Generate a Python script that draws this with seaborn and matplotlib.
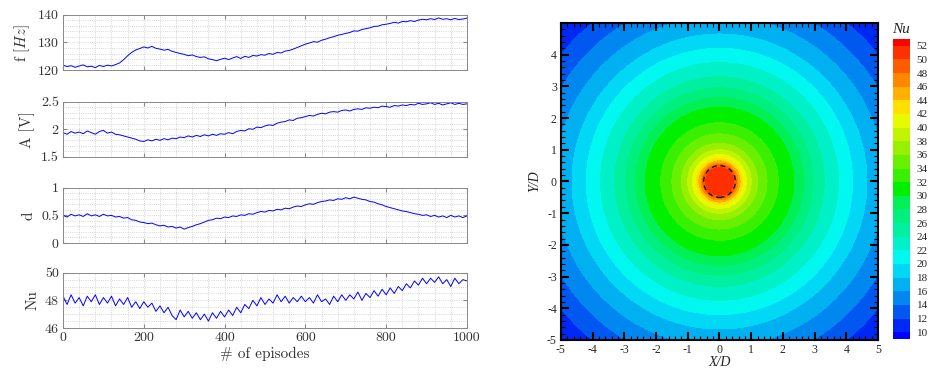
import numpy as np
import seaborn as sns
import matplotlib.pyplot as plt
from matplotlib.patches import Circle
from matplotlib.ticker import MultipleLocator

# --- time series, one value every 10 episodes ---
episodes = list(range(0, 1001, 10))

freq = [121.8, 121.3, 121.6, 121.0, 121.5, 121.9, 121.2, 121.4, 120.9, 121.7,
        121.3, 121.8, 121.5, 122.0, 122.6, 123.8, 125.2, 126.4, 127.3, 127.8,
        128.4, 128.0, 128.6, 127.9, 127.6, 127.2, 127.5, 126.8, 126.4, 126.0,
        125.7, 125.2, 125.5, 124.9, 124.6, 124.8, 124.1, 123.8, 123.4, 123.9,
        124.3, 123.8, 124.4, 124.9, 124.2, 125.0, 124.6, 125.3, 125.1, 125.6,
        125.4, 126.0, 125.7, 126.4, 126.2, 126.9, 127.1, 127.6, 128.2, 128.8,
        129.4, 129.8, 130.3, 130.1, 130.8, 131.2, 131.7, 132.1, 132.6, 132.9,
        133.3, 133.6, 134.2, 134.1, 134.7, 135.0, 135.3, 135.8, 135.9, 136.4,
        136.6, 136.9, 137.3, 137.0, 137.6, 137.5, 137.9, 137.6, 138.1, 138.4,
        138.2, 138.6, 138.3, 138.9, 138.4, 138.6, 138.2, 138.7, 138.3, 138.5,
        138.8]

amp = [1.94, 1.91, 1.96, 1.93, 1.95, 1.92, 1.97, 1.94, 1.91, 1.96,
       1.98, 1.93, 1.95, 1.91, 1.90, 1.88, 1.86, 1.84, 1.82, 1.79,
       1.78, 1.81, 1.79, 1.82, 1.80, 1.83, 1.81, 1.84, 1.83, 1.86,
       1.85, 1.88, 1.86, 1.89, 1.87, 1.90, 1.88, 1.91, 1.89, 1.92,
       1.91, 1.94, 1.92, 1.96, 1.98, 1.97, 2.01, 2.00, 2.04, 2.03,
       2.06, 2.08, 2.07, 2.11, 2.13, 2.14, 2.17, 2.16, 2.20, 2.21,
       2.23, 2.25, 2.24, 2.27, 2.29, 2.28, 2.31, 2.32, 2.31, 2.34,
       2.35, 2.33, 2.36, 2.37, 2.36, 2.39, 2.38, 2.40, 2.39, 2.42,
       2.41, 2.40, 2.43, 2.42, 2.44, 2.43, 2.45, 2.44, 2.47, 2.45,
       2.46, 2.48, 2.45, 2.47, 2.44, 2.46, 2.48, 2.45, 2.47, 2.45,
       2.46]

duty = [0.50, 0.47, 0.52, 0.49, 0.51, 0.48, 0.53, 0.49, 0.51, 0.48,
        0.52, 0.49, 0.50, 0.47, 0.48, 0.45, 0.46, 0.42, 0.41, 0.38,
        0.37, 0.35, 0.36, 0.33, 0.31, 0.32, 0.29, 0.30, 0.27, 0.29,
        0.25, 0.28, 0.30, 0.33, 0.35, 0.38, 0.41, 0.42, 0.45, 0.44,
        0.47, 0.46, 0.49, 0.48, 0.51, 0.50, 0.53, 0.52, 0.55, 0.57,
        0.56, 0.59, 0.58, 0.61, 0.60, 0.63, 0.62, 0.65, 0.67, 0.66,
        0.69, 0.71, 0.70, 0.73, 0.75, 0.76, 0.78, 0.77, 0.80, 0.79,
        0.82, 0.80, 0.83, 0.81, 0.79, 0.78, 0.75, 0.74, 0.71, 0.69,
        0.66, 0.64, 0.62, 0.60, 0.58, 0.57, 0.55, 0.53, 0.52, 0.50,
        0.51, 0.48, 0.50, 0.47, 0.49, 0.46, 0.50, 0.47, 0.49, 0.46,
        0.49]

nusselt = [48.3, 47.7, 48.4, 47.8, 48.2, 47.6, 48.3, 47.9, 48.4, 47.7,
           48.2, 47.8, 48.3, 47.6, 48.1, 47.7, 48.2, 47.5, 47.9, 47.4,
           47.9, 47.5, 47.8, 47.2, 47.6, 47.1, 47.5, 46.9, 46.6, 47.3,
           46.8, 47.2, 46.7, 47.1, 46.6, 47.0, 46.5, 47.1, 46.7, 47.2,
           46.8, 47.3, 46.9, 47.5, 47.1, 47.7, 47.4, 48.0, 47.6, 48.2,
           47.7, 48.1, 47.8, 48.4, 47.9, 48.3, 47.8, 48.2, 47.9, 48.3,
           47.9, 48.2, 47.8, 48.4, 47.9, 48.1, 47.7, 48.3, 47.9, 48.4,
           48.0, 48.4, 48.1, 48.6, 48.0, 48.5, 48.2, 48.7, 48.3, 48.8,
           48.4, 48.9, 48.5, 49.0, 48.7, 49.2, 48.9, 49.4, 49.1, 49.6,
           49.2, 49.6, 49.3, 49.7, 49.2, 49.5, 49.0, 49.6, 49.2, 49.5,
           49.4]

# --- Nu map: radial profile ---
radius = [0.0, 0.47, 0.53, 0.58, 0.65, 0.72, 0.85, 1.0, 1.2, 1.5, 1.85,
          2.35, 2.65, 2.95, 3.3, 3.75, 4.2, 4.65, 5.2, 5.8, 6.4, 7.1]
nu_profile = [51.8, 50, 48, 46, 44, 42, 40, 38, 36, 34, 32,
              30, 28, 26, 24, 22, 20, 18, 16, 14, 12, 10.5]

levels = [9] + list(range(10, 53, 2)) + [53]
band_colors = ['#0000ff', '#0028f5', '#0058f0', '#0088f0', '#00b0f0', '#00d8f5',
               '#00f8f0', '#00f0c8', '#00f0a0', '#00f080', '#00f055', '#00f000',
               '#38f000', '#68f000', '#98f000', '#c0f400', '#e8fa00', '#ffe000',
               '#ffb000', '#ff8800', '#ff5c00', '#ff3000', '#ff0000']

sns.set_style('white')
plt.rcParams['mathtext.fontset'] = 'cm'
plt.rcParams['font.family'] = ['DejaVu Sans']

fig = plt.figure(figsize=(9.35, 3.71), dpi=100)

# --- Left: four stacked series ---
panels = [
    (freq, r'f $[Hz]$', [120, 130, 140], ['120', '130', '140'], 2, (120, 140), 0.811),
    (amp, 'A [V]', [1.5, 2, 2.5], ['1.5', '2', '2.5'], 0.1, (1.5, 2.5), 0.577),
    (duty, 'd', [0, 0.5, 1], ['0', '0.5', '1'], 0.1, (0, 1), 0.345),
    (nusselt, 'Nu', [46, 48, 50], ['46', '48', '50'], 0.5, (46, 50), 0.116),
]
cm_font = 'cmr10'
for i, (vals, label, yt, ytl, minor, ylim, bottom) in enumerate(panels):
    ax = fig.add_axes([0.0674, bottom, 0.432, 0.149])
    sns.lineplot(x=episodes, y=vals, ax=ax, color='#0000ff', linewidth=0.7)
    ax.set_xlim(0, 1000)
    ax.set_ylim(*ylim)
    ax.set_yticks(yt)
    ax.set_yticklabels(ytl, fontfamily=cm_font, fontsize=10, color='#333333')
    ax.yaxis.set_minor_locator(MultipleLocator(minor))
    ax.xaxis.set_minor_locator(MultipleLocator(40))
    ax.set_xticks(range(0, 1001, 200))
    if i == 3:
        ax.set_xticklabels([str(v) for v in range(0, 1001, 200)],
                           fontfamily=cm_font, fontsize=10, color='#333333')
        ax.set_xlabel('# of episodes', fontfamily=cm_font, fontsize=11,
                      color='#333333', labelpad=2)
    else:
        ax.set_xticklabels([])
    ax.set_ylabel(label, fontfamily=cm_font, fontsize=11, color='#333333', labelpad=4)
    ax.grid(which='both', linestyle=':', color='#c8c8c8', linewidth=0.6)
    ax.tick_params(which='major', direction='in', length=3, color='#888888', pad=3,
                   bottom=True, left=True, top=True, right=True)
    ax.tick_params(which='minor', length=0)
    for s in ax.spines.values():
        s.set_color('#888888')
        s.set_linewidth(0.7)

# --- Right: Nu contour map ---
xs = np.linspace(-5, 5, 121)
X, Y = np.meshgrid(xs, xs)
NU = np.interp(np.hypot(X, Y), radius, nu_profile)

serif = 'Liberation Serif'
axc = fig.add_axes([0.6, 0.0836, 0.339, 0.8545])
axc.set_axisbelow(False)
cf = axc.contourf(X, Y, NU, levels=levels, colors=band_colors)
axc.add_patch(Circle((0, 0), 0.5, fill=False, color='black',
                     linestyle=(0, (4, 3)), linewidth=0.9))
axc.set_xlim(-5, 5)
axc.set_ylim(-5, 5)
axc.set_aspect('auto')
axc.set_xticks(range(-5, 6))
axc.set_xticklabels([str(v) for v in range(-5, 6)], fontfamily=serif, fontsize=8.5)
axc.set_yticks(range(-5, 5))
axc.set_yticklabels([str(v) for v in range(-5, 5)], fontfamily=serif, fontsize=8.5)
axc.xaxis.set_minor_locator(MultipleLocator(0.2))
axc.yaxis.set_minor_locator(MultipleLocator(0.2))
axc.tick_params(which='major', direction='in', length=6, width=1.5,
                bottom=True, left=True, top=True, right=True, color='black', pad=3)
axc.tick_params(which='minor', direction='in', length=3, width=0.8,
                bottom=True, left=True, top=True, right=True, color='black')
for s in axc.spines.values():
    s.set_linewidth(1.5)
    s.set_color('black')
axc.set_xlabel('X/D', fontfamily=serif, fontstyle='italic', fontsize=10, labelpad=0)
axc.set_ylabel('Y/D', fontfamily=serif, fontstyle='italic', fontsize=10, labelpad=4)

cax = fig.add_axes([0.955, 0.0863, 0.018, 0.8086])
cbar = fig.colorbar(cf, cax=cax, ticks=list(range(10, 53, 2)), spacing='proportional')
cbar.outline.set_visible(False)
cax.tick_params(length=0, pad=5)
for t in cax.get_yticklabels():
    t.set_fontfamily(serif)
    t.set_fontsize(8)
cax.set_title('Nu', fontfamily=serif, fontstyle='italic', fontsize=11, pad=4)

fig.savefig('out.png', dpi=100)
